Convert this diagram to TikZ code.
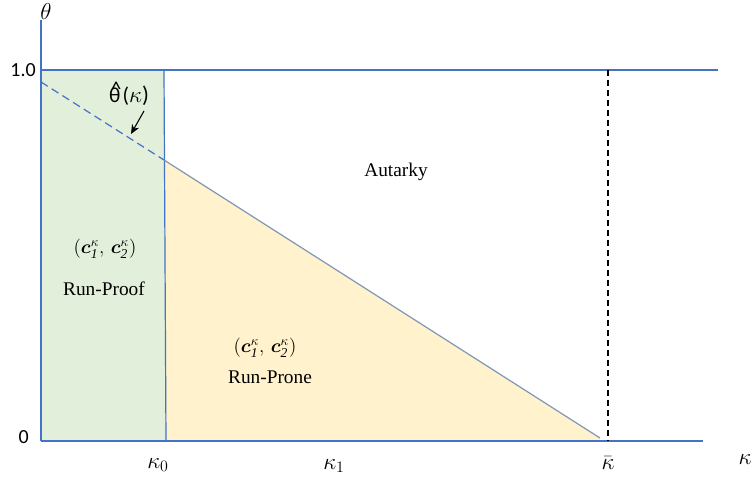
\documentclass[tikz,border=0pt]{standalone}
\usepackage{amsmath}
\usepackage{bm}
\usepackage{fontspec}
\setmainfont{Liberation Serif}
\newfontfamily\carlito{Carlito}
\usetikzlibrary{arrows.meta}
\definecolor{axisblue}{HTML}{4472C4}
\definecolor{diagblue}{HTML}{7F96B8}
\definecolor{greenfill}{HTML}{E2EFDA}
\definecolor{yellowfill}{HTML}{FFF2CC}
\tikzset{
  axisline/.style={draw=axisblue, line width=0.9pt},
  diagline/.style={draw=diagblue, line width=0.9pt},
  lbl/.style={inner sep=0pt, font=\fontsize{14.5}{16}\selectfont},
  numlbl/.style={inner sep=0pt, font=\carlito\fontsize{15}{17}\selectfont},
  klbl/.style={inner sep=0pt, font=\fontsize{18.5}{20}\selectfont},
}
\begin{document}
\begin{tikzpicture}[x=0.75pt, y=-0.75pt]
\useasboundingbox (0,0) rectangle (753,478);
% coordinates
\coordinate (O) at (41,441);
\coordinate (Ytop) at (41,20);
\coordinate (Xend) at (703,441);
\coordinate (T0) at (41,70);
\coordinate (T1) at (718,70);
\coordinate (K0top) at (164,70);
\coordinate (K0bot) at (166,441);
\coordinate (Hstart) at (41,82);
\coordinate (Hmid) at (164,160);
\coordinate (Hend) at (600,438);
\coordinate (Hbase) at (600,441);
\coordinate (KBtop) at (608,70);
\coordinate (KBbot) at (608,441);
\coordinate (Atail) at (144,111);
\coordinate (Ahead) at (131,134);
% fills
\fill[greenfill] (T0) -- (K0top) -- (K0bot) -- (O) -- cycle;
\fill[yellowfill] (Hmid) -- (Hend) -- (Hbase) -- (K0bot) -- cycle;
% lines
\draw[axisline] (Ytop) -- (O);
\draw[axisline] (O) -- (Xend);
\draw[axisline] (T0) -- (T1);
\draw[axisline] (K0top) -- (K0bot);
\draw[axisline, dash pattern=on 6pt off 3.5pt] (Hstart) -- (Hmid);
\draw[diagline] (Hmid) -- (Hend);
\draw[black, line width=0.8pt, dash pattern=on 4.5pt off 3pt] (KBtop) -- (KBbot);
\draw[black, line width=0.8pt, -{Stealth[length=7pt,width=6pt]}] (Atail) -- (Ahead);
% labels
\node[inner sep=0pt, font=\fontsize{18}{20}\selectfont] (theta) at (46,12) {$\theta$};
\node[numlbl, anchor=east] (one) at (36,70) {1.0};
\node[numlbl, anchor=east] (zero) at (29,437) {0};
\node[klbl] (k0) at (158,465) {$\kappa_0$};
\node[klbl] (k1) at (334,466) {$\kappa_1$};
\node[klbl] (kbar) at (608,463) {$\bar{\kappa}$};
\node[klbl] (kap) at (745,460) {$\kappa$};
\node[inner sep=0pt, font=\carlito\fontsize{16}{18}\selectfont] (thetahat) at (129,94) {θ\kern-0.45em\raisebox{0.62ex}{\^{}}\kern0.05em(\fontsize{17}{18}\selectfont$\kappa$)};
\node[lbl] (aut) at (396,172) {Autarky};
\node[lbl] (c1) at (105,249) {$(\bm{c}^{\kappa}_{\mathit{1}},\, \bm{c}^{\kappa}_{\mathit{2}})$};
\node[lbl] (rp1) at (104,289) {Run-Proof};
\node[lbl] (c2) at (265,348) {$(\bm{c}^{\kappa}_{\mathit{1}},\, \bm{c}^{\kappa}_{\mathit{2}})$};
\node[lbl] (rp2) at (270,377) {Run-Prone};
\end{tikzpicture}
\end{document}
